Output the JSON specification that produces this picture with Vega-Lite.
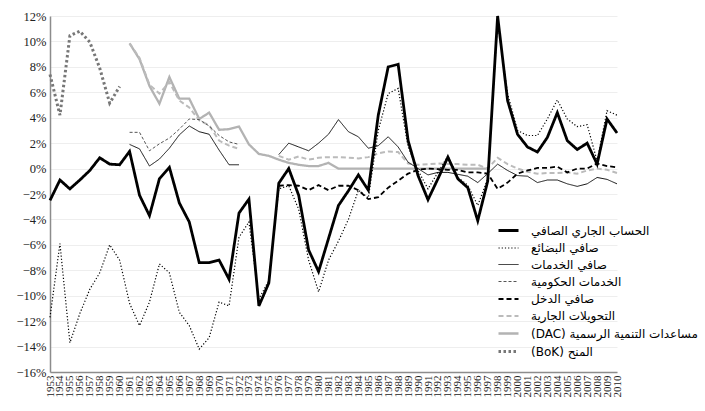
{
  "$schema": "https://vega.github.io/schema/vega-lite/v6.json",
  "width": 567,
  "height": 356,
  "autosize": {"type": "none"},
  "padding": {"left": 50, "top": 16, "right": 88, "bottom": 39},
  "background": "white",
  "config": {
    "view": {"stroke": null},
    "axis": {"labelFont": "Liberation Serif", "labelColor": "#222", "domainColor": "#8c8c8c", "domainWidth": 1.5, "ticks": false, "gridColor": "#eeeeee"},
    "legend": {
      "title": null, "orient": "none", "legendX": 447, "legendY": 203,
      "symbolType": "stroke", "symbolSize": 400, "labelFont": "DejaVu Sans", "labelFontSize": 12,
      "labelColor": "#000", "labelOffset": 11, "rowPadding": -4, "labelLimit": 300
    }
  },
  "datasets": {
    "names": [
      {"k": "ca", "name": "الحساب الجاري الصافي"},
      {"k": "goods", "name": "صافي البضائع"},
      {"k": "serv", "name": "صافي الخدمات"},
      {"k": "gov", "name": "الخدمات الحكومية"},
      {"k": "inc", "name": "صافي الدخل"},
      {"k": "ct", "name": "التحويلات الجارية"},
      {"k": "dac", "name": "(DAC) مساعدات التنمية الرسمية"},
      {"k": "bok", "name": "(BoK) المنح"}
    ],
    "rows": [
      {"k": "bok", "year": 1953, "value": 7.4}, {"k": "bok", "year": 1954, "value": 4.2}, {"k": "bok", "year": 1955, "value": 10.45}, {"k": "bok", "year": 1956, "value": 10.8},
      {"k": "bok", "year": 1957, "value": 9.95}, {"k": "bok", "year": 1958, "value": 7.9}, {"k": "bok", "year": 1959, "value": 5.15}, {"k": "bok", "year": 1960, "value": 6.45},

      {"k": "dac", "year": 1961, "value": 9.85}, {"k": "dac", "year": 1962, "value": 8.6}, {"k": "dac", "year": 1963, "value": 6.5}, {"k": "dac", "year": 1964, "value": 5.1},
      {"k": "dac", "year": 1965, "value": 7.2}, {"k": "dac", "year": 1966, "value": 5.5}, {"k": "dac", "year": 1967, "value": 5.5}, {"k": "dac", "year": 1968, "value": 3.9},
      {"k": "dac", "year": 1969, "value": 4.4}, {"k": "dac", "year": 1970, "value": 3.05}, {"k": "dac", "year": 1971, "value": 3.1}, {"k": "dac", "year": 1972, "value": 3.3},
      {"k": "dac", "year": 1973, "value": 1.9}, {"k": "dac", "year": 1974, "value": 1.15}, {"k": "dac", "year": 1975, "value": 1.0}, {"k": "dac", "year": 1976, "value": 0.7},
      {"k": "dac", "year": 1977, "value": 0.45}, {"k": "dac", "year": 1978, "value": 0.3}, {"k": "dac", "year": 1979, "value": 0.2}, {"k": "dac", "year": 1980, "value": 0.2},
      {"k": "dac", "year": 1981, "value": 0.45}, {"k": "dac", "year": 1982, "value": 0.0}, {"k": "dac", "year": 1983, "value": 0.0}, {"k": "dac", "year": 1984, "value": 0.0},
      {"k": "dac", "year": 1985, "value": 0.0}, {"k": "dac", "year": 1986, "value": 0.0}, {"k": "dac", "year": 1987, "value": 0.0}, {"k": "dac", "year": 1988, "value": 0.0},
      {"k": "dac", "year": 1989, "value": 0.0}, {"k": "dac", "year": 1990, "value": 0.0}, {"k": "dac", "year": 1991, "value": 0.0}, {"k": "dac", "year": 1992, "value": 0.0},
      {"k": "dac", "year": 1993, "value": 0.0}, {"k": "dac", "year": 1994, "value": 0.0}, {"k": "dac", "year": 1995, "value": 0.0}, {"k": "dac", "year": 1996, "value": 0.0},
      {"k": "dac", "year": 1997, "value": 0.0},

      {"k": "ct", "seg": 1, "year": 1961, "value": 9.85}, {"k": "ct", "seg": 1, "year": 1962, "value": 8.7}, {"k": "ct", "seg": 1, "year": 1963, "value": 6.6},
      {"k": "ct", "seg": 1, "year": 1964, "value": 5.9}, {"k": "ct", "seg": 1, "year": 1965, "value": 6.8}, {"k": "ct", "seg": 1, "year": 1966, "value": 5.35},
      {"k": "ct", "seg": 1, "year": 1967, "value": 4.8}, {"k": "ct", "seg": 1, "year": 1968, "value": 3.8}, {"k": "ct", "seg": 1, "year": 1969, "value": 3.4},
      {"k": "ct", "seg": 1, "year": 1970, "value": 2.2}, {"k": "ct", "seg": 1, "year": 1971, "value": 1.8}, {"k": "ct", "seg": 1, "year": 1972, "value": 1.55},
      {"k": "ct", "seg": 2, "year": 1976, "value": 1.0}, {"k": "ct", "seg": 2, "year": 1977, "value": 0.7}, {"k": "ct", "seg": 2, "year": 1978, "value": 0.95},
      {"k": "ct", "seg": 2, "year": 1979, "value": 0.7}, {"k": "ct", "seg": 2, "year": 1980, "value": 0.85}, {"k": "ct", "seg": 2, "year": 1981, "value": 0.9},
      {"k": "ct", "seg": 2, "year": 1982, "value": 0.9}, {"k": "ct", "seg": 2, "year": 1983, "value": 0.85}, {"k": "ct", "seg": 2, "year": 1984, "value": 0.8},
      {"k": "ct", "seg": 2, "year": 1985, "value": 0.9}, {"k": "ct", "seg": 2, "year": 1986, "value": 1.2}, {"k": "ct", "seg": 2, "year": 1987, "value": 1.35},
      {"k": "ct", "seg": 2, "year": 1988, "value": 1.3}, {"k": "ct", "seg": 2, "year": 1989, "value": 0.4}, {"k": "ct", "seg": 2, "year": 1990, "value": 0.3},
      {"k": "ct", "seg": 2, "year": 1991, "value": 0.35}, {"k": "ct", "seg": 2, "year": 1992, "value": 0.4}, {"k": "ct", "seg": 2, "year": 1993, "value": 0.35},
      {"k": "ct", "seg": 2, "year": 1994, "value": 0.35}, {"k": "ct", "seg": 2, "year": 1995, "value": 0.3}, {"k": "ct", "seg": 2, "year": 1996, "value": 0.3},
      {"k": "ct", "seg": 2, "year": 1997, "value": 0.0}, {"k": "ct", "seg": 2, "year": 1998, "value": 0.85}, {"k": "ct", "seg": 2, "year": 1999, "value": 0.35},
      {"k": "ct", "seg": 2, "year": 2000, "value": 0.0}, {"k": "ct", "seg": 2, "year": 2001, "value": -0.25}, {"k": "ct", "seg": 2, "year": 2002, "value": -0.4},
      {"k": "ct", "seg": 2, "year": 2003, "value": -0.35}, {"k": "ct", "seg": 2, "year": 2004, "value": -0.35}, {"k": "ct", "seg": 2, "year": 2005, "value": -0.3},
      {"k": "ct", "seg": 2, "year": 2006, "value": -0.4}, {"k": "ct", "seg": 2, "year": 2007, "value": -0.15}, {"k": "ct", "seg": 2, "year": 2008, "value": 0.0},
      {"k": "ct", "seg": 2, "year": 2009, "value": -0.1}, {"k": "ct", "seg": 2, "year": 2010, "value": -0.35},

      {"k": "inc", "year": 1976, "value": -1.35}, {"k": "inc", "year": 1977, "value": -1.3}, {"k": "inc", "year": 1978, "value": -1.35}, {"k": "inc", "year": 1979, "value": -1.7},
      {"k": "inc", "year": 1980, "value": -1.3}, {"k": "inc", "year": 1981, "value": -1.7}, {"k": "inc", "year": 1982, "value": -1.35}, {"k": "inc", "year": 1983, "value": -1.35},
      {"k": "inc", "year": 1984, "value": -1.7}, {"k": "inc", "year": 1985, "value": -2.4}, {"k": "inc", "year": 1986, "value": -2.25}, {"k": "inc", "year": 1987, "value": -1.5},
      {"k": "inc", "year": 1988, "value": -0.95}, {"k": "inc", "year": 1989, "value": -0.4}, {"k": "inc", "year": 1990, "value": -0.1}, {"k": "inc", "year": 1991, "value": 0.0},
      {"k": "inc", "year": 1992, "value": -0.05}, {"k": "inc", "year": 1993, "value": -0.1}, {"k": "inc", "year": 1994, "value": -0.1}, {"k": "inc", "year": 1995, "value": -0.3},
      {"k": "inc", "year": 1996, "value": -0.3}, {"k": "inc", "year": 1997, "value": -0.4}, {"k": "inc", "year": 1998, "value": -1.6}, {"k": "inc", "year": 1999, "value": -1.1},
      {"k": "inc", "year": 2000, "value": -0.4}, {"k": "inc", "year": 2001, "value": -0.15}, {"k": "inc", "year": 2002, "value": 0.05}, {"k": "inc", "year": 2003, "value": 0.05},
      {"k": "inc", "year": 2004, "value": 0.15}, {"k": "inc", "year": 2005, "value": -0.3}, {"k": "inc", "year": 2006, "value": 0.0}, {"k": "inc", "year": 2007, "value": 0.0},
      {"k": "inc", "year": 2008, "value": 0.4}, {"k": "inc", "year": 2009, "value": 0.2}, {"k": "inc", "year": 2010, "value": 0.1},

      {"k": "gov", "year": 1961, "value": 2.85}, {"k": "gov", "year": 1962, "value": 2.85}, {"k": "gov", "year": 1963, "value": 1.4}, {"k": "gov", "year": 1964, "value": 1.95},
      {"k": "gov", "year": 1965, "value": 2.4}, {"k": "gov", "year": 1966, "value": 3.1}, {"k": "gov", "year": 1967, "value": 3.9}, {"k": "gov", "year": 1968, "value": 3.85},
      {"k": "gov", "year": 1969, "value": 3.35}, {"k": "gov", "year": 1970, "value": 2.6}, {"k": "gov", "year": 1971, "value": 2.1}, {"k": "gov", "year": 1972, "value": 1.9},

      {"k": "serv", "seg": 1, "year": 1961, "value": 1.9}, {"k": "serv", "seg": 1, "year": 1962, "value": 1.55}, {"k": "serv", "seg": 1, "year": 1963, "value": 0.2},
      {"k": "serv", "seg": 1, "year": 1964, "value": 0.75}, {"k": "serv", "seg": 1, "year": 1965, "value": 1.6}, {"k": "serv", "seg": 1, "year": 1966, "value": 2.65},
      {"k": "serv", "seg": 1, "year": 1967, "value": 3.35}, {"k": "serv", "seg": 1, "year": 1968, "value": 2.9}, {"k": "serv", "seg": 1, "year": 1969, "value": 2.7},
      {"k": "serv", "seg": 1, "year": 1970, "value": 1.45}, {"k": "serv", "seg": 1, "year": 1971, "value": 0.3}, {"k": "serv", "seg": 1, "year": 1972, "value": 0.3},
      {"k": "serv", "seg": 2, "year": 1976, "value": 1.1}, {"k": "serv", "seg": 2, "year": 1977, "value": 2.0}, {"k": "serv", "seg": 2, "year": 1978, "value": 1.7},
      {"k": "serv", "seg": 2, "year": 1979, "value": 1.4}, {"k": "serv", "seg": 2, "year": 1980, "value": 2.0}, {"k": "serv", "seg": 2, "year": 1981, "value": 2.7},
      {"k": "serv", "seg": 2, "year": 1982, "value": 3.85}, {"k": "serv", "seg": 2, "year": 1983, "value": 2.9}, {"k": "serv", "seg": 2, "year": 1984, "value": 2.5},
      {"k": "serv", "seg": 2, "year": 1985, "value": 1.6}, {"k": "serv", "seg": 2, "year": 1986, "value": 1.8}, {"k": "serv", "seg": 2, "year": 1987, "value": 2.5},
      {"k": "serv", "seg": 2, "year": 1988, "value": 1.7}, {"k": "serv", "seg": 2, "year": 1989, "value": 0.5}, {"k": "serv", "seg": 2, "year": 1990, "value": 0.0},
      {"k": "serv", "seg": 2, "year": 1991, "value": -0.5}, {"k": "serv", "seg": 2, "year": 1992, "value": -0.3}, {"k": "serv", "seg": 2, "year": 1993, "value": -0.3},
      {"k": "serv", "seg": 2, "year": 1994, "value": -0.45}, {"k": "serv", "seg": 2, "year": 1995, "value": -0.6}, {"k": "serv", "seg": 2, "year": 1996, "value": -1.1},
      {"k": "serv", "seg": 2, "year": 1997, "value": -0.4}, {"k": "serv", "seg": 2, "year": 1998, "value": 0.35}, {"k": "serv", "seg": 2, "year": 1999, "value": -0.15},
      {"k": "serv", "seg": 2, "year": 2000, "value": -0.55}, {"k": "serv", "seg": 2, "year": 2001, "value": -0.6}, {"k": "serv", "seg": 2, "year": 2002, "value": -1.1},
      {"k": "serv", "seg": 2, "year": 2003, "value": -0.9}, {"k": "serv", "seg": 2, "year": 2004, "value": -0.9}, {"k": "serv", "seg": 2, "year": 2005, "value": -1.2},
      {"k": "serv", "seg": 2, "year": 2006, "value": -1.4}, {"k": "serv", "seg": 2, "year": 2007, "value": -1.2}, {"k": "serv", "seg": 2, "year": 2008, "value": -0.7},
      {"k": "serv", "seg": 2, "year": 2009, "value": -0.85}, {"k": "serv", "seg": 2, "year": 2010, "value": -1.2},

      {"k": "goods", "year": 1953, "value": -11.7}, {"k": "goods", "year": 1954, "value": -5.9}, {"k": "goods", "year": 1955, "value": -13.7}, {"k": "goods", "year": 1956, "value": -11.4},
      {"k": "goods", "year": 1957, "value": -9.5}, {"k": "goods", "year": 1958, "value": -8.2}, {"k": "goods", "year": 1959, "value": -6.0}, {"k": "goods", "year": 1960, "value": -7.2},
      {"k": "goods", "year": 1961, "value": -10.6}, {"k": "goods", "year": 1962, "value": -12.35}, {"k": "goods", "year": 1963, "value": -10.5}, {"k": "goods", "year": 1964, "value": -7.5},
      {"k": "goods", "year": 1965, "value": -8.2}, {"k": "goods", "year": 1966, "value": -11.3}, {"k": "goods", "year": 1967, "value": -12.35}, {"k": "goods", "year": 1968, "value": -14.2},
      {"k": "goods", "year": 1969, "value": -13.3}, {"k": "goods", "year": 1970, "value": -10.5}, {"k": "goods", "year": 1971, "value": -10.8}, {"k": "goods", "year": 1972, "value": -5.4},
      {"k": "goods", "year": 1973, "value": -4.2}, {"k": "goods", "year": 1974, "value": -10.25}, {"k": "goods", "year": 1975, "value": -8.8}, {"k": "goods", "year": 1976, "value": -1.6},
      {"k": "goods", "year": 1977, "value": -1.35}, {"k": "goods", "year": 1978, "value": -3.2}, {"k": "goods", "year": 1979, "value": -7.2}, {"k": "goods", "year": 1980, "value": -9.7},
      {"k": "goods", "year": 1981, "value": -7.2}, {"k": "goods", "year": 1982, "value": -5.7}, {"k": "goods", "year": 1983, "value": -4.0}, {"k": "goods", "year": 1984, "value": -1.7},
      {"k": "goods", "year": 1985, "value": -2.3}, {"k": "goods", "year": 1986, "value": 3.0}, {"k": "goods", "year": 1987, "value": 5.9}, {"k": "goods", "year": 1988, "value": 6.3},
      {"k": "goods", "year": 1989, "value": 1.7}, {"k": "goods", "year": 1990, "value": -0.15}, {"k": "goods", "year": 1991, "value": -1.6}, {"k": "goods", "year": 1992, "value": -0.3},
      {"k": "goods", "year": 1993, "value": 1.0}, {"k": "goods", "year": 1994, "value": -0.7}, {"k": "goods", "year": 1995, "value": -1.3}, {"k": "goods", "year": 1996, "value": -2.9},
      {"k": "goods", "year": 1997, "value": -0.8}, {"k": "goods", "year": 1998, "value": 11.5}, {"k": "goods", "year": 1999, "value": 5.9}, {"k": "goods", "year": 2000, "value": 3.0},
      {"k": "goods", "year": 2001, "value": 2.6}, {"k": "goods", "year": 2002, "value": 2.6}, {"k": "goods", "year": 2003, "value": 3.9}, {"k": "goods", "year": 2004, "value": 5.4},
      {"k": "goods", "year": 2005, "value": 3.9}, {"k": "goods", "year": 2006, "value": 3.3}, {"k": "goods", "year": 2007, "value": 3.45}, {"k": "goods", "year": 2008, "value": 0.6},
      {"k": "goods", "year": 2009, "value": 4.55}, {"k": "goods", "year": 2010, "value": 4.2},

      {"k": "ca", "year": 1953, "value": -2.5}, {"k": "ca", "year": 1954, "value": -0.9}, {"k": "ca", "year": 1955, "value": -1.6}, {"k": "ca", "year": 1956, "value": -0.9},
      {"k": "ca", "year": 1957, "value": -0.15}, {"k": "ca", "year": 1958, "value": 0.85}, {"k": "ca", "year": 1959, "value": 0.35}, {"k": "ca", "year": 1960, "value": 0.3},
      {"k": "ca", "year": 1961, "value": 1.35}, {"k": "ca", "year": 1962, "value": -2.1}, {"k": "ca", "year": 1963, "value": -3.7}, {"k": "ca", "year": 1964, "value": -0.8},
      {"k": "ca", "year": 1965, "value": 0.1}, {"k": "ca", "year": 1966, "value": -2.7}, {"k": "ca", "year": 1967, "value": -4.2}, {"k": "ca", "year": 1968, "value": -7.4},
      {"k": "ca", "year": 1969, "value": -7.4}, {"k": "ca", "year": 1970, "value": -7.2}, {"k": "ca", "year": 1971, "value": -8.7}, {"k": "ca", "year": 1972, "value": -3.5},
      {"k": "ca", "year": 1973, "value": -2.4}, {"k": "ca", "year": 1974, "value": -10.8}, {"k": "ca", "year": 1975, "value": -9.0}, {"k": "ca", "year": 1976, "value": -1.15},
      {"k": "ca", "year": 1977, "value": 0.0}, {"k": "ca", "year": 1978, "value": -2.1}, {"k": "ca", "year": 1979, "value": -6.4}, {"k": "ca", "year": 1980, "value": -8.1},
      {"k": "ca", "year": 1981, "value": -5.5}, {"k": "ca", "year": 1982, "value": -2.9}, {"k": "ca", "year": 1983, "value": -1.75}, {"k": "ca", "year": 1984, "value": -0.5},
      {"k": "ca", "year": 1985, "value": -1.7}, {"k": "ca", "year": 1986, "value": 4.2}, {"k": "ca", "year": 1987, "value": 8.0}, {"k": "ca", "year": 1988, "value": 8.2},
      {"k": "ca", "year": 1989, "value": 2.2}, {"k": "ca", "year": 1990, "value": -0.55}, {"k": "ca", "year": 1991, "value": -2.45}, {"k": "ca", "year": 1992, "value": -0.8},
      {"k": "ca", "year": 1993, "value": 0.9}, {"k": "ca", "year": 1994, "value": -0.8}, {"k": "ca", "year": 1995, "value": -1.5}, {"k": "ca", "year": 1996, "value": -4.1},
      {"k": "ca", "year": 1997, "value": -1.0}, {"k": "ca", "year": 1998, "value": 12.0}, {"k": "ca", "year": 1999, "value": 5.35}, {"k": "ca", "year": 2000, "value": 2.7},
      {"k": "ca", "year": 2001, "value": 1.7}, {"k": "ca", "year": 2002, "value": 1.3}, {"k": "ca", "year": 2003, "value": 2.45}, {"k": "ca", "year": 2004, "value": 4.4},
      {"k": "ca", "year": 2005, "value": 2.2}, {"k": "ca", "year": 2006, "value": 1.5}, {"k": "ca", "year": 2007, "value": 2.0}, {"k": "ca", "year": 2008, "value": 0.35},
      {"k": "ca", "year": 2009, "value": 3.9}, {"k": "ca", "year": 2010, "value": 2.8}
    ]
  },
  "data": {"name": "rows"},
  "transform": [
    {"lookup": "k", "from": {"data": {"name": "names"}, "key": "k", "fields": ["name"]}}
  ],
  "mark": {"type": "line", "strokeJoin": "miter", "strokeCap": "butt"},
  "encoding": {
    "x": {
      "field": "year", "type": "quantitative",
      "scale": {"domain": [1953, 2010], "nice": false, "zero": false},
      "axis": {
        "title": null, "grid": false, "format": "d", "labelAngle": -90, "labelFontSize": 11,
        "labelPadding": 3, "labelOverlap": false, "labelFlush": false, "labelBound": false,
        "values": [1953,1954,1955,1956,1957,1958,1959,1960,1961,1962,1963,1964,1965,1966,1967,1968,1969,1970,1971,1972,1973,1974,1975,1976,1977,1978,1979,1980,1981,1982,1983,1984,1985,1986,1987,1988,1989,1990,1991,1992,1993,1994,1995,1996,1997,1998,1999,2000,2001,2002,2003,2004,2005,2006,2007,2008,2009,2010]
      }
    },
    "y": {
      "field": "value", "type": "quantitative",
      "scale": {"domain": [-16, 12], "nice": false},
      "axis": {
        "title": null, "grid": true, "values": [-16,-14,-12,-10,-8,-6,-4,-2,0,2,4,6,8,10,12],
        "labelOverlap": false, "labelFlush": false,
        "format": "d", "labelExpr": "datum.label + '%'", "labelFontSize": 12.5, "labelPadding": 4
      }
    },
    "detail": {"field": "seg"},
    "color": {
      "field": "name", "type": "nominal",
      "scale": {
        "domain": ["الحساب الجاري الصافي", "صافي البضائع", "صافي الخدمات", "الخدمات الحكومية", "صافي الدخل", "التحويلات الجارية", "(DAC) مساعدات التنمية الرسمية", "(BoK) المنح"],
        "range": ["#000000", "#000000", "#111111", "#555555", "#000000", "#bbbbbb", "#b3b3b3", "#777777"]
      }
    },
    "strokeDash": {
      "field": "name", "type": "nominal",
      "scale": {
        "domain": ["الحساب الجاري الصافي", "صافي البضائع", "صافي الخدمات", "الخدمات الحكومية", "صافي الدخل", "التحويلات الجارية", "(DAC) مساعدات التنمية الرسمية", "(BoK) المنح"],
        "range": [[1, 0], [1.2, 2], [1, 0], [3, 2], [5, 3], [5, 3], [1, 0], [2.5, 2.5]]
      }
    },
    "strokeWidth": {
      "field": "name", "type": "nominal",
      "scale": {
        "type": "ordinal",
        "domain": ["الحساب الجاري الصافي", "صافي البضائع", "صافي الخدمات", "الخدمات الحكومية", "صافي الدخل", "التحويلات الجارية", "(DAC) مساعدات التنمية الرسمية", "(BoK) المنح"],
        "range": [2.8, 1.2, 1, 1, 1.8, 2, 2.3, 3]
      }
    },
    "order": {"field": "year"}
  }
}
